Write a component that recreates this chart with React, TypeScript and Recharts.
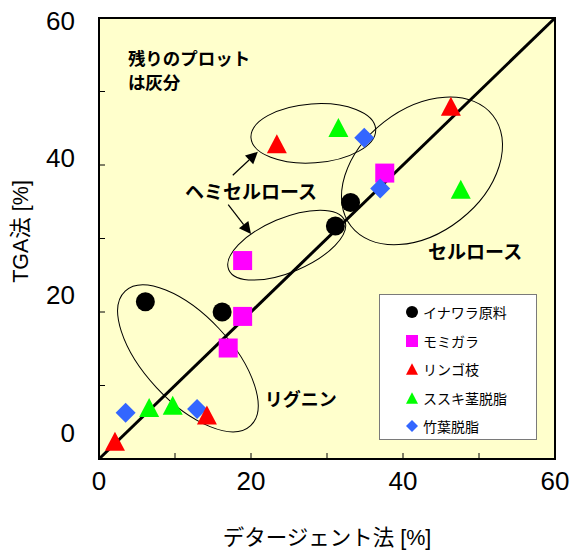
import React from "react";
import {
  ScatterChart,
  Scatter,
  XAxis,
  YAxis,
  ReferenceLine,
  ReferenceArea,
  ReferenceDot,
} from "recharts";

// x: デタージェント法 [%], y: TGA法 [%]
const inawaraX = [6.1, 16.2, 31.1, 33.1];
const inawaraY = [21.4, 20.0, 31.7, 34.9];
const momigaraX = [17.0, 18.9, 18.9, 37.6];
const momigaraY = [15.1, 19.4, 27.0, 38.9];
const ringoX = [2.1, 14.2, 23.4, 46.3];
const ringoY = [2.4, 6.0, 42.9, 48.0];
const susukiX = [6.6, 9.7, 31.5, 47.6];
const susukiY = [7.0, 7.3, 45.1, 36.7];
const chikuyoX = [3.5, 12.9, 34.9, 37.0];
const chikuyoY = [6.3, 6.8, 43.7, 36.8];

const seriesNames = ["イナワラ原料", "モミガラ", "リンゴ枝", "ススキ茎脱脂", "竹葉脱脂"];
const axisTicks = [0, 10, 20, 30, 40, 50, 60];

const W = 570;
const H = 554;
const BG = "#FFFFCC";
const JP = "'Noto Sans CJK JP', 'Noto Sans', sans-serif";
const NUM = "'Liberation Sans', Arial, sans-serif";
const TITLE = "'Liberation Sans', 'Noto Sans CJK JP', sans-serif";

const toPoints = (xs: number[], ys: number[]) => xs.map((x, i) => ({ x, y: ys[i] }));

// shapes
const Circle = ({ cx, cy, fill, s = 9.5 }: any) => <circle cx={cx} cy={cy} r={s} fill={fill} />;
const Square = ({ cx, cy, fill, s = 9.5 }: any) => (
  <rect x={cx - s} y={cy - s} width={s * 2} height={s * 2} fill={fill} />
);
const Triangle = ({ cx, cy, fill, s = 10 }: any) => (
  <polygon
    points={`${cx},${cy - s * 0.95} ${cx + s},${cy + s * 0.95} ${cx - s},${cy + s * 0.95}`}
    fill={fill}
  />
);
const Diamond = ({ cx, cy, fill, s = 10 }: any) => (
  <polygon points={`${cx},${cy - s} ${cx + s},${cy} ${cx},${cy + s} ${cx - s},${cy}`} fill={fill} />
);

const series = [
  { name: seriesNames[0], data: toPoints(inawaraX, inawaraY), color: "#000000", Shape: Circle },
  { name: seriesNames[1], data: toPoints(momigaraX, momigaraY), color: "#FF00FF", Shape: Square },
  { name: seriesNames[2], data: toPoints(ringoX, ringoY), color: "#FF0000", Shape: Triangle },
  { name: seriesNames[3], data: toPoints(susukiX, susukiY), color: "#00FF00", Shape: Triangle },
  { name: seriesNames[4], data: toPoints(chikuyoX, chikuyoY), color: "#3366FF", Shape: Diamond },
];
// drawing order (blue under the red/green ones)
const drawOrder = [0, 1, 4, 2, 3];

// annotations: centre in data units, size/rotation in px
const ellipses = [
  { x: 28.2, y: 44.3, rx: 62.5, ry: 29.5, angle: -4 },
  { x: 24.7, y: 29.1, rx: 63, ry: 27, angle: -23 },
  { x: 42.5, y: 39.2, rx: 90, ry: 62, angle: -38 },
  { x: 11.7, y: 13.7, rx: 92, ry: 43, angle: 47 },
];
const notes = [
  { x: 3.8, y: 53.6, lines: ["残りのプロット", "は灰分"], size: 17.5 },
  { x: 11.3, y: 35.4, lines: ["ヘミセルロース"], size: 19 },
  { x: 43.3, y: 27.2, lines: ["セルロース"], size: 19 },
  { x: 21.8, y: 7.2, lines: ["リグニン"], size: 18 },
];
const arrows = [
  [{ x: 17.6, y: 38.6 }, { x: 20.9, y: 41.8 }],
  [{ x: 17.0, y: 34.6 }, { x: 20.0, y: 30.6 }],
];

const XTick = ({ x, y, payload }: any) =>
  payload.value % 20 ? null : (
    <text x={x} y={y + 31} textAnchor="middle" fontSize={26} fontFamily={NUM} fill="#000">
      {payload.value}
    </text>
  );

const YTick = ({ x, y, payload }: any) => {
  const v = payload.value;
  if (v % 20) return null;
  const shift = 2 - (60 - v) * 0.48;
  return (
    <text x={x} y={y + 9.5 + shift} textAnchor="end" fontSize={26} fontFamily={NUM} fill="#000">
      {v}
    </text>
  );
};

const Arrow = ({ x1, y1, x2, y2 }: any) => {
  const dx = x2 - x1;
  const dy = y2 - y1;
  const len = Math.sqrt(dx * dx + dy * dy) || 1;
  const ux = dx / len;
  const uy = dy / len;
  const hl = 12;
  const hw = 6;
  const bx = x2 - ux * hl;
  const by = y2 - uy * hl;
  return (
    <g>
      <line x1={x1} y1={y1} x2={bx} y2={by} stroke="#000" strokeWidth={1.2} />
      <polygon
        points={`${x2},${y2} ${bx - uy * hw},${by + ux * hw} ${bx + uy * hw},${by - ux * hw}`}
        fill="#000"
      />
    </g>
  );
};

const Legend = () => (
  <div
    style={{
      position: "absolute",
      left: 379,
      top: 294,
      width: 158,
      height: 146,
      boxSizing: "border-box",
      border: "1.5px solid #7a7a7a",
      background: "#fff",
      paddingTop: 3,
      fontFamily: JP,
      fontSize: 14,
    }}
  >
    {series.map(({ name, color, Shape }) => (
      <div key={name} style={{ display: "flex", alignItems: "center", height: 28.5 }}>
        <svg width={14} height={14} style={{ marginLeft: 25, marginRight: 4 }}>
          <Shape cx={7} cy={7} fill={color} s={6} />
        </svg>
        <span>{name}</span>
      </div>
    ))}
  </div>
);

export default function App() {
  return (
    <div style={{ position: "absolute", left: 0, top: 0, width: W, height: H, background: "#fff" }}>
      <ScatterChart width={W} height={H} margin={{ top: 18, right: 15, left: 0, bottom: 0 }}>
        <ReferenceArea x1={0} x2={60} y1={0} y2={60} fill={BG} fillOpacity={1} stroke="#000" strokeWidth={2} />

        <XAxis
          type="number"
          dataKey="x"
          domain={[0, 60]}
          ticks={axisTicks}
          interval={0}
          height={95}
          tickSize={-6}
          tickMargin={6}
          tick={<XTick />}
          axisLine={{ stroke: "#000", strokeWidth: 2 }}
          tickLine={{ stroke: "#000", strokeWidth: 1 }}
          label={{
            value: "デタージェント法 [%]",
            content: (p: any) => {
              const vb = p.viewBox || { x: 99, y: 459, width: 456, height: 95 };
              return (
                <text x={vb.x + vb.width / 2} y={vb.y + 86} textAnchor="middle" fontSize={21.5} fontFamily={TITLE} fill="#000">
                  デタージェント法 [%]
                </text>
              );
            },
          }}
        />
        <YAxis
          type="number"
          dataKey="y"
          domain={[0, 60]}
          ticks={axisTicks}
          interval={0}
          width={99}
          tickSize={-6}
          tickMargin={30}
          tick={<YTick />}
          axisLine={{ stroke: "#000", strokeWidth: 2 }}
          tickLine={{ stroke: "#000", strokeWidth: 1 }}
          label={{
            value: "TGA法 [%]",
            content: (p: any) => {
              const vb = p.viewBox || { x: 0, y: 18, width: 99, height: 441 };
              const cx = vb.x + 28;
              const cy = vb.y + vb.height / 2 - 7;
              return (
                <text
                  x={cx}
                  y={cy}
                  transform={`rotate(-90 ${cx} ${cy})`}
                  textAnchor="middle"
                  fontSize={21.5}
                  fontFamily={TITLE}
                  fill="#000"
                >
                  TGA法 [%]
                </text>
              );
            },
          }}
        />

        {ellipses.map((e, i) => (
          <ReferenceDot
            key={"e" + i}
            x={e.x}
            y={e.y}
            r={1}
            shape={(p: any) => (
              <ellipse
                cx={p.cx}
                cy={p.cy}
                rx={e.rx}
                ry={e.ry}
                transform={`rotate(${e.angle} ${p.cx} ${p.cy})`}
                fill="none"
                stroke="#000"
                strokeWidth={1}
              />
            )}
          />
        ))}

        {notes.map((n, i) => (
          <ReferenceDot
            key={"n" + i}
            x={n.x}
            y={n.y}
            r={1}
            shape={(p: any) => (
              <text x={p.cx} y={p.cy} fontSize={n.size} fontWeight={700} fontFamily={JP} fill="#000">
                {n.lines.map((l, j) => (
                  <tspan key={j} x={p.cx} dy={j === 0 ? 0 : 24}>
                    {l}
                  </tspan>
                ))}
              </text>
            )}
          />
        ))}

        {arrows.map((a, i) => (
          <ReferenceLine key={"a" + i} segment={a} shape={<Arrow />} />
        ))}

        {drawOrder.map((k) => {
          const s = series[k];
          return (
            <Scatter
              key={s.name}
              name={s.name}
              data={s.data}
              fill={s.color}
              isAnimationActive={false}
              shape={(p: any) => <s.Shape cx={p.cx} cy={p.cy} fill={s.color} />}
            />
          );
        })}

        <ReferenceLine
          segment={[
            { x: 0, y: 0 },
            { x: 60, y: 60 },
          ]}
          stroke="#000"
          strokeWidth={3}
        />
      </ScatterChart>
      <Legend />
    </div>
  );
}
